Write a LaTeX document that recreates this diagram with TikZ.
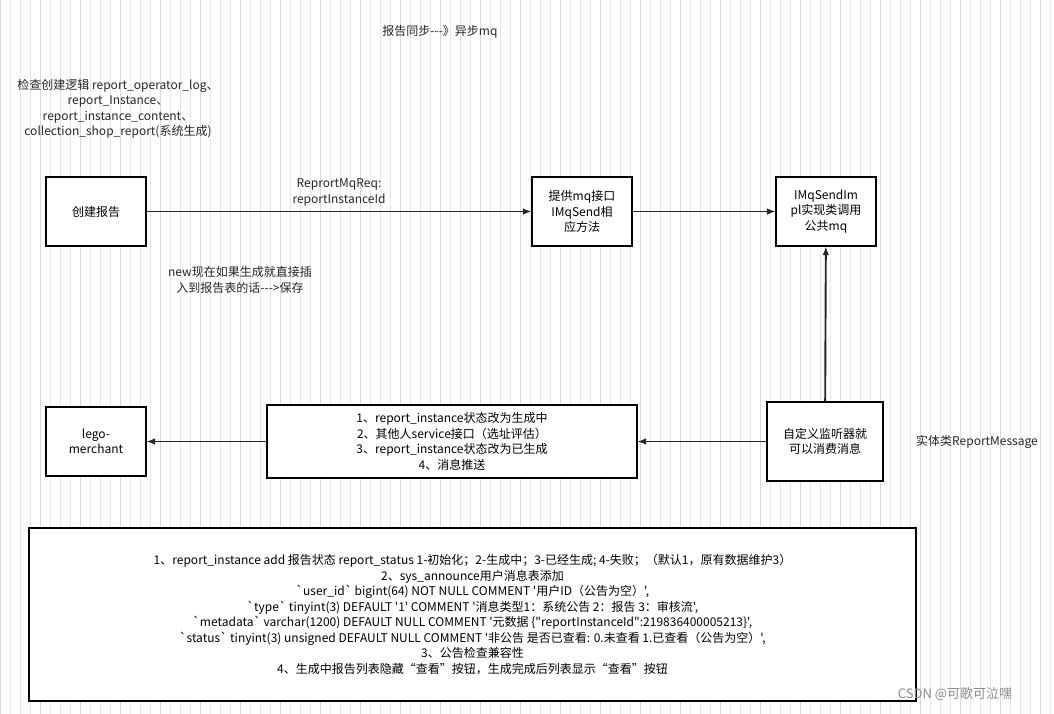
\documentclass[tikz,border=0pt]{standalone}
\usepackage{fontspec}
\setmainfont{Noto Sans CJK SC}[Ligatures=TeXOff]
\begin{document}
\begin{tikzpicture}[x=1pt,y=-1pt,
  box/.style={draw=black,line width=1.4pt,fill=white,align=center,inner sep=0pt,font=\fontsize{12}{15.5}\selectfont},
  lbl/.style={align=center,font=\fontsize{12}{15.5}\selectfont,text=black!85},
  arr/.style={-latex,line width=1.9pt,draw=black!85}]
\fill[white] (0,0) rectangle (1054,714);
\useasboundingbox (0,0) rectangle (1054,714);
\draw[black!9,line width=0.6pt] (0,0) grid[step=10] (1054,714);
\draw[black!15,line width=0.6pt] (0,0) grid[step=40] (1054,714);
\node[box,minimum width=100,minimum height=69] (a) at (96,211.5) {创建报告};
\node[box,minimum width=100,minimum height=69] (b) at (582,211.5) {提供mq接口\\IMqSend相\\应方法};
\node[box,minimum width=100,minimum height=69] (c) at (826,211.5) {IMqSendIm\\pl实现类调用\\公共mq};
\node[box,minimum width=116,minimum height=79] (d) at (825,441.5) {自定义监听器就\\可以消费消息};
\node[box,minimum width=370,minimum height=73] (e) at (452,441.5) {1、report\_instance状态改为生成中\\2、其他人service接口（选址评估）\\3、report\_instance状态改为已生成\\4、消息推送};
\node[box,minimum width=100,minimum height=69] (f) at (96,441.5) {lego-\\merchant};
\node[box,minimum width=887,minimum height=173] (g) at (472.5,614.5) {1、report\_instance add 报告状态 report\_status 1-初始化；2-生成中；3-已经生成; 4-失败；（默认1，原有数据维护3）\\2、sys\_announce用户消息表添加\\`user\_id` bigint(64) NOT NULL COMMENT '用户ID（公告为空）',\\`type` tinyint(3) DEFAULT '1' COMMENT '消息类型1：系统公告 2：报告 3：审核流',\\`metadata` varchar(1200) DEFAULT NULL COMMENT '元数据 \{"reportInstanceId":219836400005213\}',\\`status` tinyint(3) unsigned DEFAULT NULL COMMENT '非公告 是否已查看: 0.未查看 1.已查看（公告为空）',\\3、公告检查兼容性\\4、生成中报告列表隐藏“查看”按钮，生成完成后列表显示“查看”按钮};
\draw[arr] (a) -- node[lbl,above=1pt]{ReprortMqReq:\\reportInstanceId} (b);
\draw[arr] (b) -- (c);
\draw[arr] (d) -- (c);
\draw[arr] (d) -- (e);
\draw[arr] (e) -- (f);
\node[lbl] (t) at (440,32) {报告同步---》异步mq};
\node[lbl] (n1) at (118,109) {检查创建逻辑 report\_operator\_log、\\report\_Instance、\\report\_instance\_content、\\collection\_shop\_report(系统生成)};
\node[lbl] (n2) at (240,280) {new现在如果生成就直接插\\入到报告表的话--->保存};
\node[lbl] (n3) at (977,442) {实体类ReportMessage};
\node[lbl,text=black!45,font=\fontsize{13}{15}\selectfont] (w) at (955,694) {CSDN @可歌可泣嘿};
\end{tikzpicture}
\end{document}
